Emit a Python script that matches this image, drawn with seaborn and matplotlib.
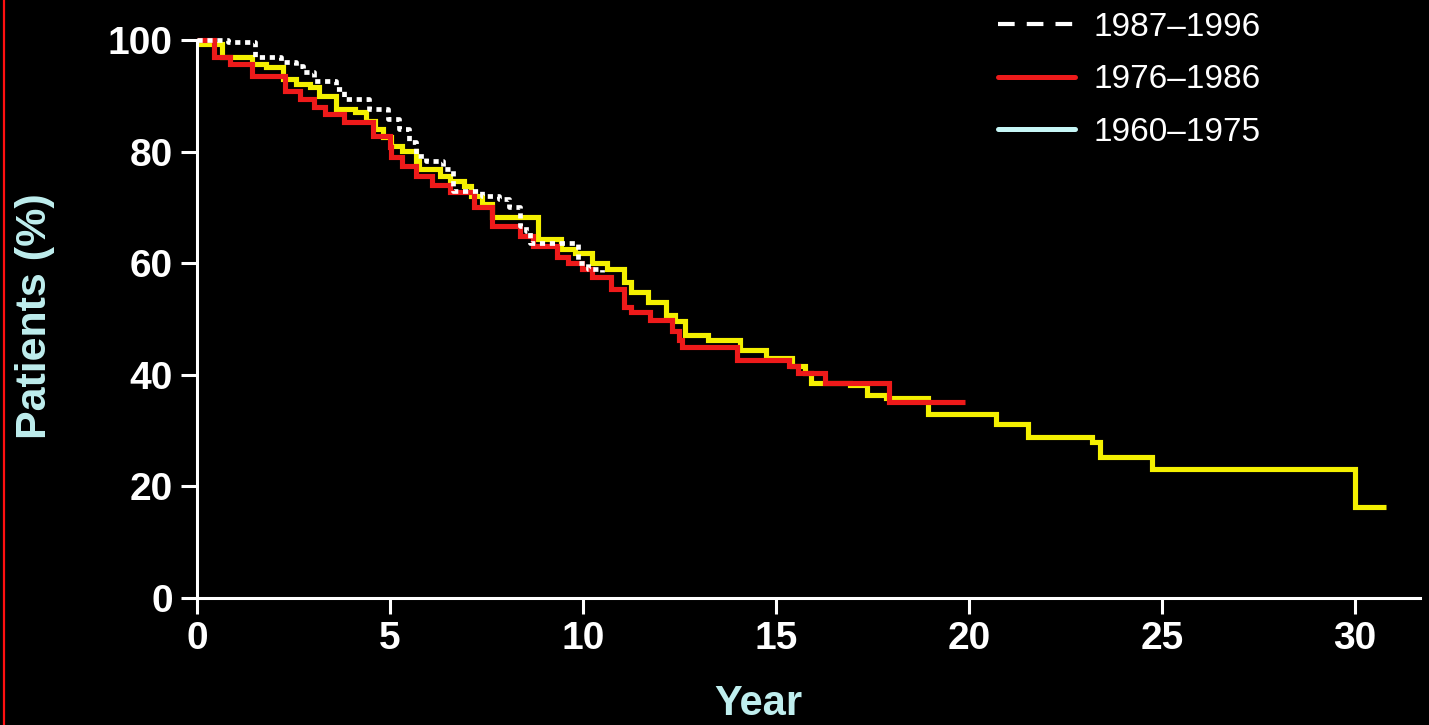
import matplotlib
matplotlib.use("Agg")
import matplotlib.pyplot as plt
from matplotlib.lines import Line2D
import seaborn as sns

# Survival (% of patients) by follow-up year, one step curve per treatment era
years_1960_1975 = [0, 0.66, 1.43, 1.8, 2.23, 2.57, 2.94, 3.17, 3.6, 4.09, 4.37, 4.6, 4.83,
                   5.03, 5.3, 5.67, 5.75, 6.29, 6.56, 6.91, 7.1, 7.37, 7.63, 8.84, 9.44,
                   9.78, 10.23, 10.63, 11.06, 11.23, 11.68, 12.14, 12.39, 12.64, 13.24,
                   14.07, 14.75, 15.4, 15.76, 15.91, 16.92, 17.35, 17.85, 18.94, 20.7,
                   21.53, 23.18, 23.38, 24.75, 30.0, 30.8]
surv_1960_1975 = [99.3, 96.9, 95.7, 95.2, 93.0, 92.1, 91.6, 89.9, 87.6, 87.1, 85.5, 84.0,
                  82.6, 81.0, 80.1, 78.3, 76.8, 75.6, 74.7, 73.8, 72.0, 70.6, 68.2, 64.3,
                  62.5, 61.9, 60.1, 58.9, 56.6, 54.8, 53.0, 50.8, 49.6, 47.2, 46.3, 44.5,
                  43.1, 41.5, 40.4, 38.6, 38.2, 36.4, 35.9, 32.9, 31.1, 28.9, 28.0, 25.3,
                  23.2, 16.3, 16.3]

years_1976_1986 = [0, 0.43, 0.86, 1.43, 2.29, 2.66, 3.03, 3.31, 3.8, 4.57, 5.0, 5.03, 5.3,
                   5.67, 6.1, 6.56, 7.18, 7.63, 8.36, 8.71, 9.33, 9.6, 9.97, 10.23, 10.73,
                   11.06, 11.23, 11.73, 12.31, 12.49, 12.56, 13.99, 15.33, 15.58, 16.26,
                   17.93, 19.9]
surv_1976_1986 = [100.0, 96.9, 95.7, 93.5, 90.8, 89.4, 88.0, 86.7, 85.3, 82.8, 80.8, 79.0,
                  77.4, 75.6, 74.1, 72.7, 70.0, 66.6, 64.8, 63.0, 61.2, 60.1, 58.9, 57.6,
                  55.3, 52.2, 51.3, 49.9, 47.8, 46.3, 44.9, 42.7, 41.5, 40.4, 38.6, 35.2,
                  35.2]

years_1987_1996 = [0, 0.8, 1.51, 2.17, 2.57, 2.74, 3.03, 3.6, 3.8, 4.46, 4.94, 5.22, 5.48,
                   5.67, 5.94, 6.37, 6.64, 7.37, 7.82, 8.09, 8.36, 8.52, 8.63, 9.87, 10.13,
                   10.48]
surv_1987_1996 = [100.0, 99.6, 96.9, 96.0, 95.3, 94.3, 92.6, 91.2, 89.4, 87.6, 85.8, 84.0,
                  81.7, 79.2, 78.3, 76.8, 72.9, 72.0, 71.5, 70.0, 66.6, 65.7, 63.7, 60.1,
                  58.9, 58.5]

legend_labels = ["1987\u20131996", "1976\u20131986", "1960\u20131975"]
x_ticks = [0, 5, 10, 15, 20, 25, 30]
y_ticks = [0, 20, 40, 60, 80, 100]

YELLOW = "#f4f000"
RED = "#ee1a1a"
WHITE = "#ffffff"
CYAN = "#c6f6f6"
LABEL = "#bfeeee"

sns.set_theme(style="white")
plt.rcParams["font.family"] = ["Liberation Sans", "DejaVu Sans"]

W, H = 1429, 725
fig = plt.figure(figsize=(W / 100, H / 100), dpi=100, facecolor="black")
ax = fig.add_axes([197 / W, 127 / H, 1223 / W, 558 / H])
ax.set_facecolor("black")

curves = [
    (years_1960_1975, surv_1960_1975, YELLOW, 3.7, None),
    (years_1976_1986, surv_1976_1986, RED, 3.7, None),
    (years_1987_1996, surv_1987_1996, WHITE, 3.4, (1.1, 1.0)),
]
for t, s, color, lw, dashes in curves:
    sns.lineplot(x=t, y=s, ax=ax, color=color, linewidth=lw, drawstyle="steps-post",
                 estimator=None, sort=False, legend=False)
    line = ax.lines[-1]
    line.set_clip_on(False)
    line.set_solid_joinstyle("miter")
    line.set_solid_capstyle("butt")
    if dashes:
        line.set_dashes(dashes)

ax.set_xlim(0, 31.68)
ax.set_ylim(0, 100)
ax.set_xticks(x_ticks)
ax.set_yticks(y_ticks)
ax.set_xticklabels([str(v) for v in x_ticks])
ax.set_yticklabels([str(v) for v in y_ticks])
ax.set_xlabel("")
ax.set_ylabel("")

for side in ("top", "right"):
    ax.spines[side].set_visible(False)
for side in ("left", "bottom"):
    ax.spines[side].set_visible(True)
    ax.spines[side].set_color(WHITE)
    ax.spines[side].set_linewidth(2.2)

ax.tick_params(axis="both", colors=WHITE, length=11.5, width=2.2, direction="out",
               labelsize=28, left=True, bottom=True)
ax.tick_params(axis="y", pad=6)
ax.tick_params(axis="x", pad=5)
for lbl in ax.get_xticklabels() + ax.get_yticklabels():
    lbl.set_fontweight("bold")
    lbl.set_color(WHITE)

fig.text(35 / W, 1 - 316 / H, "Patients (%)", rotation=90, ha="center", va="center",
         fontsize=31, fontweight="bold", color=LABEL)
fig.text(758 / W, 1 / H, "Year", ha="center", va="bottom",
         fontsize=30, fontweight="bold", color=LABEL)

handles = [
    Line2D([], [], color=WHITE, lw=3.0, dashes=(4.0, 2.9)),
    Line2D([], [], color=RED, lw=3.6),
    Line2D([], [], color=CYAN, lw=3.6),
]
leg = fig.legend(handles, legend_labels, loc="upper left",
                 bbox_to_anchor=(998 / W, 1 - 12 / H), frameon=False, fontsize=24,
                 handlelength=2.3, handletextpad=0.55, labelspacing=0.64,
                 borderpad=0, borderaxespad=0)
for txt in leg.get_texts():
    txt.set_color(WHITE)

# thin red rule along the left edge of the slide
fig.add_artist(Line2D([4 / W, 4 / W], [0, 1], transform=fig.transFigure,
                      color="#ff1010", lw=1.6))

fig.savefig("out.png", dpi=100, facecolor=fig.get_facecolor())
